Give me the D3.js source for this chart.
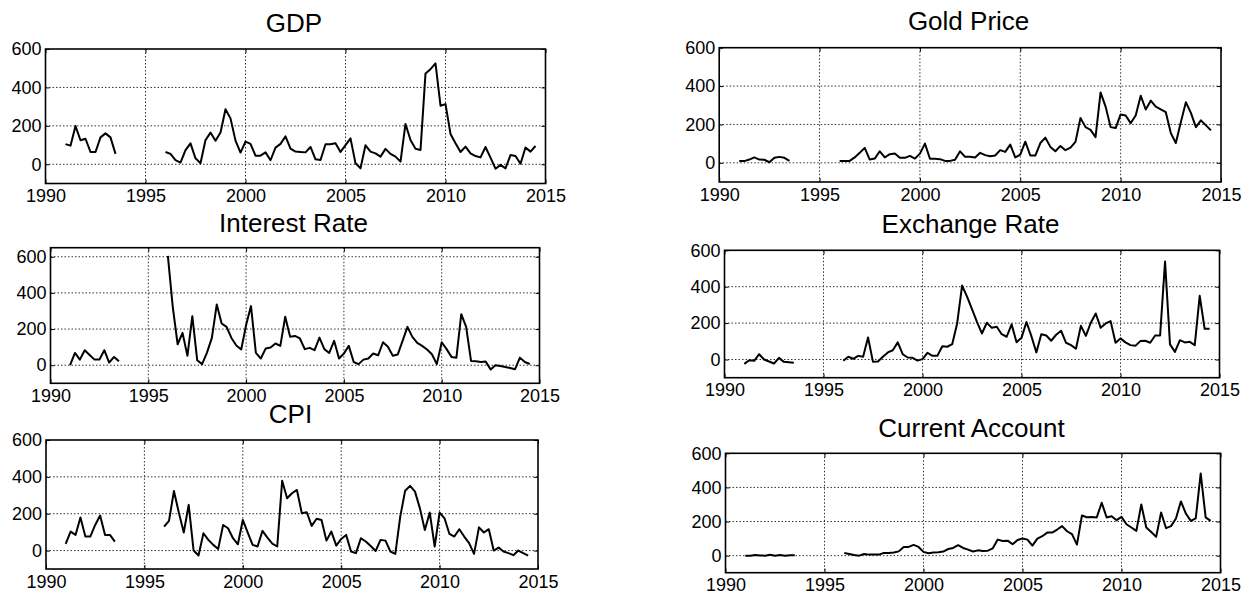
<!DOCTYPE html>
<html>
<head>
<meta charset="utf-8">
<script src="https://cdn.jsdelivr.net/npm/d3@7"></script>
<style>
  html, body { margin: 0; padding: 0; background: #fff; }
  svg { display: block; font-family: "Liberation Sans", Arial, Helvetica, sans-serif; }
</style>
</head>
<body>
<svg id="chart" width="1244" height="594"></svg>
<script>
// Quarterly observations, 1991Q1 .. 2014Q3 (no data 1993Q4 .. 1995Q4)
const quarters = d3.range(1991, 2014.75, 0.25);

const xTickValues = [1990, 1995, 2000, 2005, 2010, 2015];
const yTickValues = [0, 200, 400, 600];

const gdp = [
  105, 97, 199, 125, 133, 64, 64, 140, 161, 140, 54,
  null, null, null, null, null, null, null, null, null,
  64, 54, 22, 9, 74, 109, 31, 5, 126, 165, 123, 165, 286, 239, 123, 61,
  118, 106, 45, 45, 62, 21, 87, 106, 145, 81, 66, 64, 62, 90, 26, 22,
  104, 104, 109, 64, 100, 135, 5, -21, 99, 66, 57, 40, 80, 54, 40, 14,
  210, 126, 81, 74, 473, 495, 525, 305, 313, 158, 109, 64, 92, 57, 43, 36,
  90, 35, -23, -3, -21, 48, 43, 3, 87, 66, 95
];

const interestRate = [
  0, 68, 31, 83, 57, 31, 31, 83, 15, 46, 22,
  null, null, null, null, null, null, null, null, null,
  605, 323, 116, 179, 52, 271, 28, 6, 70, 151, 336, 231, 212, 151, 109, 87,
  222, 327, 68, 37, 92, 98, 120, 107, 268, 157, 162, 148, 89, 96, 83, 153,
  89, 68, 135, 37, 65, 107, 18, 6, 31, 37, 65, 55, 127, 102, 52, 59,
  135, 212, 157, 124, 107, 87, 61, 6, 127, 89, 46, 41, 282, 212, 24, 22,
  18, 20, -24, 0, -4, -10, -15, -22, 42, 18, 7
];

const cpi = [
  36, 103, 85, 179, 76, 76, 139, 190, 85, 85, 49,
  null, null, null, null, null, null, null, null, null,
  130, 161, 323, 206, 98, 248, 0, -27, 94, 58, 31, 9, 139, 121, 67, 34,
  166, 98, 31, 22, 107, 70, 38, 22, 379, 284, 311, 329, 202, 208, 134, 173,
  166, 54, 103, 27, 63, 85, -5, -14, 67, 49, 25, -2, 58, 54, -5, -18,
  184, 325, 351, 320, 229, 112, 206, 22, 206, 175, 90, 76, 116, 76, 40, -18,
  126, 98, 116, 0, 16, -5, -14, -25, 0, -14, -27
];

const goldPrice = [
  9, 9, 17, 28, 17, 16, 3, 26, 31, 26, 10,
  null, null, null, null, null, null, null, null, null,
  9, 9, 10, 28, 52, 78, 17, 22, 60, 28, 45, 48, 26, 26, 36, 22,
  48, 100, 21, 21, 19, 10, 10, 16, 60, 31, 31, 28, 52, 40, 34, 38,
  66, 57, 95, 28, 43, 110, 38, 38, 103, 131, 83, 60, 88, 66, 79, 109,
  234, 186, 172, 134, 367, 293, 186, 181, 252, 247, 207, 247, 350, 278, 324, 293,
  278, 264, 155, 103, 212, 316, 260, 186, 221, 195, 169
];

const exchangeRate = [
  -24, -4, -7, 29, 0, -11, -22, 9, -13, -15, -18,
  null, null, null, null, null, null, null, null, null,
  -7, 15, 4, 20, 15, 121, -13, -11, 15, 39, 51, 94, 29, 11, 9, -6,
  2, 37, 20, 20, 73, 70, 84, 198, 406, 345, 277, 207, 143, 202, 174, 180,
  139, 125, 193, 95, 119, 206, 128, 39, 139, 132, 103, 136, 158, 92, 79, 59,
  185, 130, 202, 253, 174, 198, 211, 92, 116, 94, 79, 75, 101, 103, 92, 132,
  132, 538, 83, 42, 106, 94, 97, 79, 350, 169, 169
];

const currentAccount = [
  -1, 0, 4, 1, 0, 5, 0, 4, 0, 2, 3,
  null, null, null, null, null, null, null, null, null,
  16, 10, 4, 0, 10, 6, 6, 6, 16, 16, 18, 25, 51, 51, 63, 51,
  22, 14, 18, 20, 24, 39, 45, 61, 45, 35, 24, 31, 27, 29, 43, 94,
  86, 88, 67, 92, 100, 94, 59, 100, 114, 135, 135, 153, 173, 143, 126, 65,
  235, 225, 227, 224, 310, 224, 231, 208, 227, 184, 165, 145, 300, 165, 139, 110,
  253, 161, 173, 218, 318, 247, 204, 218, 482, 224, 204
];

// Placement of each axes box on the page
const panels = [
  { title: "GDP",             values: gdp,            x0: 45.5,  x1: 545.5,  y0: 49,    y1: 183.5, yMax: 600, titleY: 32 },
  { title: "Interest Rate",   values: interestRate,   x0: 50.5,  x1: 539.5,  y0: 247.7, y1: 383.3, yMax: 650, titleY: 231.5 },
  { title: "CPI",             values: cpi,            x0: 46,    x1: 538,    y0: 440,   y1: 569,   yMax: 600, titleY: 423 },
  { title: "Gold Price",      values: goldPrice,      x0: 719.2, x1: 1221,   y0: 47.7,  y1: 182,   yMax: 600, titleY: 30 },
  { title: "Exchange Rate",   values: exchangeRate,   x0: 724.5, x1: 1219.5, y0: 250.3, y1: 377.7, yMax: 600, titleY: 232.5 },
  { title: "Current Account", values: currentAccount, x0: 725.5, x1: 1220.5, y0: 453.3, y1: 572.7, yMax: 600, titleY: 436.5 }
];

const svg = d3.select("#chart");
const TICK = 4;

panels.forEach(p => {
  const x = d3.scaleLinear().domain([1990, 2015]).range([p.x0, p.x1]);
  const y = d3.scaleLinear().domain([-100, p.yMax]).range([p.y1, p.y0]);
  const g = svg.append("g");
  const w = p.x1 - p.x0, h = p.y1 - p.y0;

  // dotted grid
  const grid = g.append("g")
    .attr("stroke", "#333").attr("stroke-width", 1)
    .attr("stroke-dasharray", "1.5,2").attr("fill", "none");
  xTickValues.filter(v => v > 1990 && v < 2015).forEach(v => {
    grid.append("line").attr("x1", x(v)).attr("x2", x(v)).attr("y1", p.y0).attr("y2", p.y1);
  });
  yTickValues.filter(v => y(v) > p.y0 + 0.5).forEach(v => {
    grid.append("line").attr("x1", p.x0).attr("x2", p.x1).attr("y1", y(v)).attr("y2", y(v));
  });

  // y axis (left, ticks drawn inward) and mirrored ticks on the right
  const yAxis = d3.axisLeft(y).tickValues(yTickValues).tickSize(-TICK).tickPadding(4).tickFormat(d3.format("d"));
  const ya = g.append("g").attr("transform", `translate(${p.x0},0)`).call(yAxis);
  const yAxisR = d3.axisRight(y).tickValues(yTickValues).tickSize(-TICK).tickFormat("");
  const yr = g.append("g").attr("transform", `translate(${p.x1},0)`).call(yAxisR);

  // x axis (bottom) and mirrored ticks on the top
  const xAxis = d3.axisBottom(x).tickValues(xTickValues).tickSize(-TICK).tickPadding(6).tickFormat(d3.format("d"));
  const xa = g.append("g").attr("transform", `translate(0,${p.y1})`).call(xAxis);
  const xAxisT = d3.axisTop(x).tickValues(xTickValues).tickSize(-TICK).tickFormat("");
  const xt = g.append("g").attr("transform", `translate(0,${p.y0})`).call(xAxisT);

  [ya, yr, xa, xt].forEach(a => {
    a.select(".domain").remove();
    a.selectAll(".tick line").attr("stroke", "#000").attr("stroke-width", 1);
    a.selectAll(".tick text").attr("fill", "#000").attr("font-size", 18)
      .attr("font-family", '"Liberation Sans", Arial, sans-serif');
  });

  // data line, broken where observations are missing
  const line = d3.line()
    .defined(d => d[1] !== null)
    .x(d => x(d[0]))
    .y(d => y(d[1]));
  g.append("path")
    .datum(quarters.map((q, i) => [q, p.values[i]]))
    .attr("fill", "none")
    .attr("stroke", "#000")
    .attr("stroke-width", 2)
    .attr("stroke-linejoin", "round")
    .attr("d", line);

  // axes box
  g.append("rect")
    .attr("x", p.x0).attr("y", p.y0).attr("width", w).attr("height", h)
    .attr("fill", "none").attr("stroke", "#000").attr("stroke-width", 1.6);

  // title
  g.append("text")
    .attr("x", (p.x0 + p.x1) / 2 - 1.5)
    .attr("y", p.titleY)
    .attr("text-anchor", "middle")
    .attr("font-size", 26)
    .attr("fill", "#000")
    .text(p.title);
});
</script>
</body>
</html>
